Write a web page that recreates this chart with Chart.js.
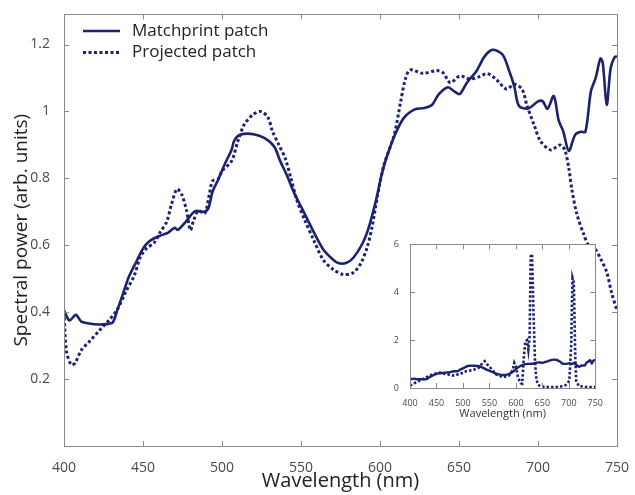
<!DOCTYPE html>
<html>
<head>
<meta charset="utf-8">
<script src="https://cdn.jsdelivr.net/npm/chart.js@4.4.1/dist/chart.umd.min.js"></script>
<style>
  html, body { margin: 0; padding: 0; background: #fff; }
  #wrap { position: relative; width: 635px; height: 495px; }
  #main { position: absolute; left: 0; top: 0; }
  #inset { position: absolute; left: 393px; top: 236px; }
</style>
</head>
<body>
<div id="wrap">
  <canvas id="main" width="635" height="495"></canvas>
  <canvas id="inset" width="212" height="185"></canvas>
</div>
<script>
// Matchprint patch (solid)
const matchWl = [400, 403.5, 407.5, 411, 416, 422, 428, 431, 434, 437, 441, 446, 450, 454, 460, 466, 470, 472, 477, 483,
  489, 491.5, 494, 497.5, 502, 506, 508, 512, 520, 527, 533, 537, 541, 545.5, 551.5, 558, 564, 570, 573.5, 578.5,
  583, 589, 593, 597.5, 601, 604, 609, 615, 622, 628, 633, 637, 643, 647, 650.5, 655, 661, 666, 671, 677.5,
  682, 685, 688, 694, 700, 703, 706, 710, 713, 716, 719.5, 723.5, 727, 730, 733.5, 736.5, 739.5, 741, 743.5, 746,
  748.5, 750];
const matchPower = [0.405, 0.375, 0.392, 0.372, 0.366, 0.363, 0.365, 0.37, 0.41, 0.45, 0.505, 0.553, 0.59, 0.612, 0.627, 0.638, 0.652, 0.646, 0.67, 0.702,
  0.7, 0.712, 0.76, 0.795, 0.845, 0.885, 0.915, 0.931, 0.932, 0.92, 0.895, 0.85, 0.81, 0.758, 0.702, 0.64, 0.588, 0.558, 0.547, 0.547,
  0.562, 0.606, 0.655, 0.735, 0.81, 0.86, 0.925, 0.98, 1.006, 1.01, 1.02, 1.05, 1.072, 1.06, 1.052, 1.086, 1.12, 1.163, 1.184, 1.17,
  1.118, 1.075, 1.016, 1.009, 1.03, 1.03, 1.008, 1.046, 0.975, 0.94, 0.882, 0.93, 0.939, 0.939, 1.06, 1.1, 1.158, 1.145, 1.02, 1.13,
  1.162, 1.165];

// Projected patch (dotted)
const projWl = [400, 401.5, 404.5, 407, 411, 416, 422.5, 428.5, 434, 439, 444.5, 448.5, 452.5, 457, 461, 465, 468, 471.5, 474.5, 477.5,
  480, 482, 485, 489, 492, 494, 497.5, 500, 506, 510, 514, 519.5, 524.5, 529, 532, 536, 540, 543.5, 547.5, 552.5,
  558, 564, 570.5, 576.5, 583, 588, 592, 595, 598.5, 602.5, 609, 613, 616, 619, 627, 636, 640, 644.5, 650.5, 657,
  663, 668, 673.5, 680, 685, 690, 693, 697.5, 701.5, 708, 714, 717, 719.5, 721.5, 724.5, 729, 732, 736, 740, 743.5,
  746.5, 750];
const projPower = [0.40, 0.285, 0.243, 0.248, 0.287, 0.312, 0.346, 0.376, 0.41, 0.46, 0.51, 0.567, 0.592, 0.607, 0.64, 0.67, 0.722, 0.768, 0.752, 0.705,
  0.645, 0.674, 0.703, 0.695, 0.752, 0.792, 0.798, 0.822, 0.851, 0.91, 0.96, 0.99, 1.0, 0.983, 0.94, 0.9, 0.86, 0.802, 0.733, 0.674,
  0.616, 0.557, 0.527, 0.513, 0.518, 0.547, 0.596, 0.655, 0.75, 0.84, 0.93, 1.027, 1.096, 1.124, 1.114, 1.122, 1.115, 1.086, 1.106, 1.097,
  1.104, 1.113, 1.096, 1.067, 1.081, 1.066, 1.018, 0.96, 0.912, 0.885, 0.9, 0.885, 0.83, 0.765, 0.695, 0.632, 0.6, 0.59, 0.556, 0.52,
  0.46, 0.405];

// unnormalised projected spectrum, shown in the small panel
const rawWl = [400, 405, 412, 420, 431, 444, 456, 469, 481, 494, 506, 519, 530, 537, 541, 545, 550, 562, 575, 587,
  594, 597, 600, 604, 609, 612, 615, 618, 621, 623.5, 626, 628, 630.5, 633, 636, 638, 641, 647, 662, 681,
  694, 701, 704.5, 707, 709.5, 712, 714, 719, 737, 750];
const rawPower = [0.10, 0.15, 0.25, 0.32, 0.45, 0.58, 0.64, 0.58, 0.52, 0.58, 0.70, 0.75, 0.85, 1.05, 1.12, 1.0, 0.9, 0.58, 0.45, 0.52,
  0.75, 1.05, 0.9, 0.45, 0.2, 0.18, 1.3, 1.95, 2.0, 1.6, 2.2, 5.5, 5.6, 3.4, 1.2, 0.5, 0.15, 0.06, 0.04, 0.04,
  0.12, 0.3, 1.8, 4.6, 4.4, 1.5, 0.3, 0.08, 0.04, 0.04];

const wlTicks = [400, 450, 500, 550, 600, 650, 700, 750];
const powerTicks = [0.2, 0.4, 0.6, 0.8, 1, 1.2];
const rawTicks = [0, 2, 4, 6];

const navy = '#1d2270';
const axisGrey = '#8a8a8a';
const fontFamily = '"Open Sans", "DejaVu Sans", sans-serif';

const pts = (xs, ys) => xs.map((x, i) => ({ x: x, y: ys[i] }));

// matlab-style box with inward ticks on all four sides
const boxAxes = {
  id: 'boxAxes',
  afterDatasetsDraw(chart, args, opts) {
    const { ctx, chartArea: a, scales } = chart;
    const len = opts.tickLen || 5;
    ctx.save();
    ctx.strokeStyle = axisGrey;
    ctx.lineWidth = 1;
    ctx.strokeRect(Math.round(a.left) + 0.5, Math.round(a.top) + 0.5,
      Math.round(a.right - a.left), Math.round(a.bottom - a.top));
    ctx.beginPath();
    scales.x.ticks.forEach(t => {
      const px = Math.round(scales.x.getPixelForValue(t.value)) + 0.5;
      ctx.moveTo(px, a.bottom); ctx.lineTo(px, a.bottom - len);
      ctx.moveTo(px, a.top); ctx.lineTo(px, a.top + len);
    });
    scales.y.ticks.forEach(t => {
      const py = Math.round(scales.y.getPixelForValue(t.value)) + 0.5;
      ctx.moveTo(a.left, py); ctx.lineTo(a.left + len, py);
      ctx.moveTo(a.right, py); ctx.lineTo(a.right - len, py);
    });
    ctx.stroke();
    ctx.restore();
  }
};

// legend drawn inside the plot area, top left
const innerLegend = {
  id: 'innerLegend',
  afterDraw(chart) {
    const { ctx } = chart;
    ctx.save();
    ctx.font = '17px ' + fontFamily;
    ctx.textBaseline = 'middle';
    ctx.fillStyle = '#222';
    chart.data.datasets.forEach((ds, i) => {
      const y = 31 + i * 21.5;
      ctx.strokeStyle = ds.borderColor;
      ctx.lineWidth = ds.borderWidth;
      ctx.setLineDash(ds.borderDash || []);
      ctx.beginPath();
      ctx.moveTo(83, y);
      ctx.lineTo(120, y);
      ctx.stroke();
      ctx.fillText(ds.label, 132, y);
    });
    ctx.restore();
  }
};

const whiteArea = {
  id: 'whiteArea',
  beforeDraw(chart) {
    const { ctx, chartArea: a } = chart;
    ctx.save();
    ctx.fillStyle = '#fff';
    ctx.fillRect(a.left, a.top, a.right - a.left, a.bottom - a.top);
    ctx.restore();
  }
};

function setTicks(values) {
  return scale => { scale.ticks = values.map(v => ({ value: v })); };
}

new Chart(document.getElementById('main'), {
  type: 'line',
  data: {
    datasets: [
      {
        label: 'Matchprint patch',
        data: pts(matchWl, matchPower),
        borderColor: navy,
        borderWidth: 2.6,
        tension: 0.3,
        pointRadius: 0
      },
      {
        label: 'Projected patch',
        data: pts(projWl, projPower),
        borderColor: navy,
        borderWidth: 3,
        borderDash: [3, 2.5],
        tension: 0.3,
        pointRadius: 0
      }
    ]
  },
  options: {
    responsive: false,
    animation: false,
    layout: { padding: { top: 7, right: 12, left: 0, bottom: 0 } },
    plugins: { legend: { display: false }, tooltip: { enabled: false } },
    scales: {
      x: {
        type: 'linear',
        min: 400,
        max: 750,
        afterBuildTicks: setTicks(wlTicks),
        afterFit: s => { s.height = 49; },
        grid: { display: false },
        border: { display: false },
        ticks: { color: '#4a4a4a', padding: 6, font: { family: fontFamily, size: 14 } },
        title: {
          display: true,
          text: 'Wavelength (nm)',
          color: '#222',
          font: { family: fontFamily, size: 20 },
          padding: { top: 0, bottom: 2 }
        }
      },
      y: {
        type: 'linear',
        min: 0,
        max: 1.29,
        afterBuildTicks: setTicks(powerTicks),
        afterFit: s => { s.width = 64; },
        grid: { display: false },
        border: { display: false },
        ticks: { color: '#4a4a4a', padding: 6, font: { family: fontFamily, size: 14 }, callback: v => String(v) },
        title: {
          display: true,
          text: 'Spectral power (arb. units)',
          color: '#222',
          font: { family: fontFamily, size: 19 },
          padding: { top: 10, bottom: 0 }
        }
      }
    }
  },
  plugins: [boxAxes, innerLegend]
});

new Chart(document.getElementById('inset'), {
  type: 'line',
  data: {
    datasets: [
      {
        label: 'Matchprint patch',
        data: pts(matchWl, matchPower),
        borderColor: navy,
        borderWidth: 2.4,
        tension: 0.3,
        pointRadius: 0
      },
      {
        label: 'Projected patch',
        data: pts(rawWl, rawPower),
        borderColor: navy,
        borderWidth: 2.6,
        borderDash: [2.5, 2],
        tension: 0,
        pointRadius: 0
      }
    ]
  },
  options: {
    responsive: false,
    animation: false,
    layout: { padding: { top: 7, right: 8, left: 0, bottom: 0 } },
    plugins: { legend: { display: false }, tooltip: { enabled: false } },
    scales: {
      x: {
        type: 'linear',
        min: 400,
        max: 750,
        afterBuildTicks: setTicks(wlTicks),
        afterFit: s => { s.height = 33; },
        grid: { display: false },
        border: { display: false },
        ticks: { color: '#4a4a4a', padding: 2, maxRotation: 0, font: { family: fontFamily, size: 9 } },
        title: {
          display: true,
          text: 'Wavelength (nm)',
          color: '#333',
          font: { family: fontFamily, size: 11 },
          padding: { top: 0, bottom: 1 }
        }
      },
      y: {
        type: 'linear',
        min: 0,
        max: 6,
        afterBuildTicks: setTicks(rawTicks),
        afterFit: s => { s.width = 17; },
        grid: { display: false },
        border: { display: false },
        ticks: { color: '#4a4a4a', padding: 3, font: { family: fontFamily, size: 9 } }
      }
    }
  },
  plugins: [whiteArea, boxAxes]
});
</script>
</body>
</html>
